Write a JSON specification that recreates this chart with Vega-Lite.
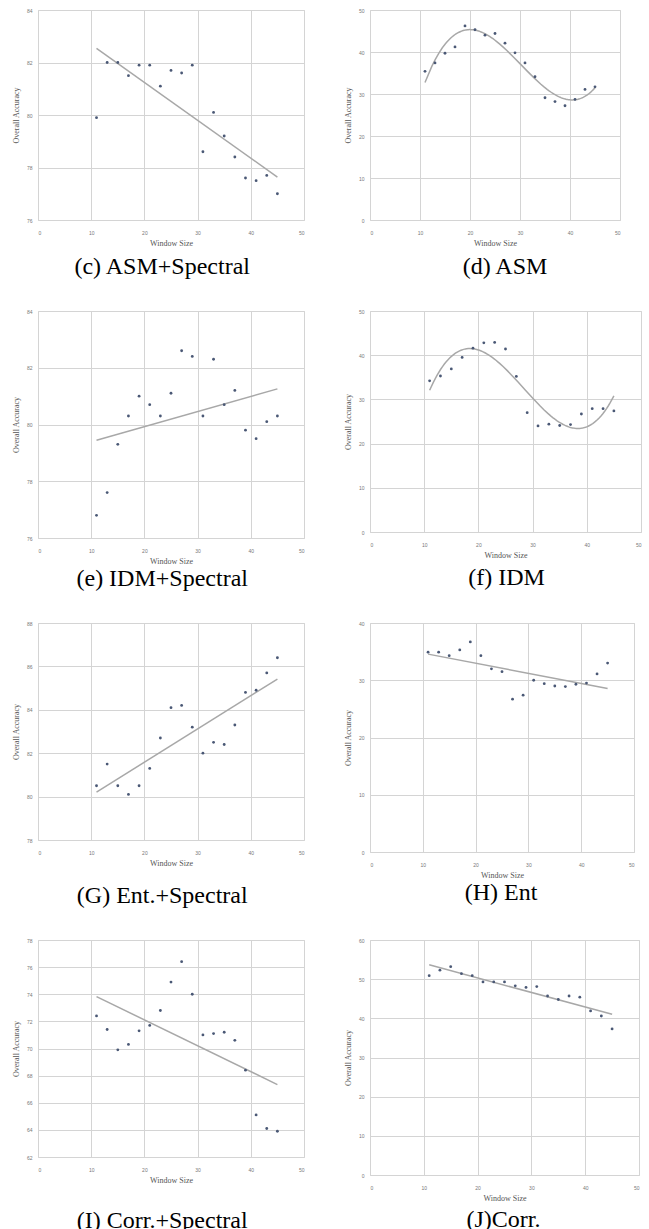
{
  "$schema": "https://vega.github.io/schema/vega-lite/v6.json",
  "background": "white",
  "padding": {"left": 11, "top": 7, "right": 0, "bottom": 0},
  "datasets": {
    "c": [{"x":11,"y":79.9},{"x":13,"y":82.0},{"x":15,"y":82.0},{"x":17,"y":81.5},{"x":19,"y":81.9},{"x":21,"y":81.9},{"x":23,"y":81.1},{"x":25,"y":81.7},{"x":27,"y":81.6},{"x":29,"y":81.9},{"x":31,"y":78.6},{"x":33,"y":80.1},{"x":35,"y":79.2},{"x":37,"y":78.4},{"x":39,"y":77.6},{"x":41,"y":77.5},{"x":43,"y":77.7},{"x":45,"y":77.0}],
    "d": [{"x":11,"y":35.4},{"x":13,"y":37.4},{"x":15,"y":39.7},{"x":17,"y":41.2},{"x":19,"y":46.2},{"x":21,"y":45.3},{"x":23,"y":44.0},{"x":25,"y":44.4},{"x":27,"y":42.1},{"x":29,"y":39.8},{"x":31,"y":37.4},{"x":33,"y":34.1},{"x":35,"y":29.1},{"x":37,"y":28.2},{"x":39,"y":27.2},{"x":41,"y":28.7},{"x":43,"y":31.1},{"x":45,"y":31.7}],
    "e": [{"x":11,"y":76.8},{"x":13,"y":77.6},{"x":15,"y":79.3},{"x":17,"y":80.3},{"x":19,"y":81.0},{"x":21,"y":80.7},{"x":23,"y":80.3},{"x":25,"y":81.1},{"x":27,"y":82.6},{"x":29,"y":82.4},{"x":31,"y":80.3},{"x":33,"y":82.3},{"x":35,"y":80.7},{"x":37,"y":81.2},{"x":39,"y":79.8},{"x":41,"y":79.5},{"x":43,"y":80.1},{"x":45,"y":80.3}],
    "f": [{"x":11,"y":34.2},{"x":13,"y":35.3},{"x":15,"y":36.9},{"x":17,"y":39.5},{"x":19,"y":41.6},{"x":21,"y":42.8},{"x":23,"y":42.9},{"x":25,"y":41.4},{"x":27,"y":35.2},{"x":29,"y":27.0},{"x":31,"y":24.0},{"x":33,"y":24.4},{"x":35,"y":24.1},{"x":37,"y":24.3},{"x":39,"y":26.7},{"x":41,"y":27.9},{"x":43,"y":27.9},{"x":45,"y":27.4}],
    "g": [{"x":11,"y":80.5},{"x":13,"y":81.5},{"x":15,"y":80.5},{"x":17,"y":80.1},{"x":19,"y":80.5},{"x":21,"y":81.3},{"x":23,"y":82.7},{"x":25,"y":84.1},{"x":27,"y":84.2},{"x":29,"y":83.2},{"x":31,"y":82.0},{"x":33,"y":82.5},{"x":35,"y":82.4},{"x":37,"y":83.3},{"x":39,"y":84.8},{"x":41,"y":84.9},{"x":43,"y":85.7},{"x":45,"y":86.4}],
    "h": [{"x":11,"y":34.9},{"x":13,"y":34.9},{"x":15,"y":34.3},{"x":17,"y":35.3},{"x":19,"y":36.7},{"x":21,"y":34.3},{"x":23,"y":32.0},{"x":25,"y":31.5},{"x":27,"y":26.7},{"x":29,"y":27.4},{"x":31,"y":30.0},{"x":33,"y":29.4},{"x":35,"y":29.0},{"x":37,"y":28.9},{"x":39,"y":29.3},{"x":41,"y":29.5},{"x":43,"y":31.1},{"x":45,"y":33.0}],
    "i": [{"x":11,"y":72.4},{"x":13,"y":71.4},{"x":15,"y":69.9},{"x":17,"y":70.3},{"x":19,"y":71.3},{"x":21,"y":71.7},{"x":23,"y":72.8},{"x":25,"y":74.9},{"x":27,"y":76.4},{"x":29,"y":74.0},{"x":31,"y":71.0},{"x":33,"y":71.1},{"x":35,"y":71.2},{"x":37,"y":70.6},{"x":39,"y":68.4},{"x":41,"y":65.1},{"x":43,"y":64.1},{"x":45,"y":63.9}],
    "j": [{"x":11,"y":50.9},{"x":13,"y":52.3},{"x":15,"y":53.2},{"x":17,"y":51.4},{"x":19,"y":50.9},{"x":21,"y":49.3},{"x":23,"y":49.3},{"x":25,"y":49.3},{"x":27,"y":48.3},{"x":29,"y":47.9},{"x":31,"y":48.1},{"x":33,"y":45.7},{"x":35,"y":44.8},{"x":37,"y":45.7},{"x":39,"y":45.4},{"x":41,"y":41.9},{"x":43,"y":40.6},{"x":45,"y":37.3}]
  },
  "spacing": 28,
  "vconcat": [
    {
      "spacing": 38,
      "hconcat": [
        {
          "width": 266, "height": 210,
          "data": {"name": "c"},
          "title": {"text": "(c) ASM+Spectral", "orient": "bottom", "offset": 8, "frame": "bounds", "dx": 4},
          "layer": [
            {"transform": [{"regression": "y", "on": "x", "extent": [11, 45]}],
             "mark": {"type": "line", "color": "#a8a8a8", "strokeWidth": 1.5, "clip": true},
             "encoding": {"x": {"field": "x", "type": "quantitative"}, "y": {"field": "y", "type": "quantitative"}}},
            {"mark": {"type": "circle", "size": 8, "color": "#4a5875", "opacity": 1},
             "encoding": {
               "x": {"field": "x", "type": "quantitative", "scale": {"domain": [0, 50], "nice": false}, "axis": {"values": [0, 10, 20, 30, 40, 50], "tickCount": 50, "format": "d", "title": "Window Size"}},
               "y": {"field": "y", "type": "quantitative", "scale": {"domain": [76, 84], "nice": false, "zero": false}, "axis": {"values": [76, 78, 80, 82, 84], "tickCount": 50, "format": "d", "title": "Overall Accuracy"}}}}
          ]
        },
        {
          "width": 250, "height": 210,
          "data": {"name": "d"},
          "title": {"text": "(d) ASM", "orient": "bottom", "offset": 8, "frame": "group", "dx": 10},
          "layer": [
            {"transform": [{"regression": "y", "on": "x", "method": "poly", "order": 3, "extent": [11, 45]}],
             "mark": {"type": "line", "color": "#a8a8a8", "strokeWidth": 1.5, "clip": true},
             "encoding": {"x": {"field": "x", "type": "quantitative"}, "y": {"field": "y", "type": "quantitative"}}},
            {"mark": {"type": "circle", "size": 8, "color": "#4a5875", "opacity": 1},
             "encoding": {
               "x": {"field": "x", "type": "quantitative", "scale": {"domain": [0, 50], "nice": false}, "axis": {"values": [0, 10, 20, 30, 40, 50], "tickCount": 50, "format": "d", "title": "Window Size"}},
               "y": {"field": "y", "type": "quantitative", "scale": {"domain": [0, 50], "nice": false}, "axis": {"values": [0, 10, 20, 30, 40, 50], "tickCount": 50, "format": "d", "title": "Overall Accuracy"}}}}
          ]
        }
      ]
    },
    {
      "spacing": 38,
      "hconcat": [
        {
          "width": 266, "height": 227,
          "data": {"name": "e"},
          "title": {"text": "(e) IDM+Spectral", "orient": "bottom", "offset": 2, "frame": "bounds", "dx": 4},
          "layer": [
            {"transform": [{"regression": "y", "on": "x", "extent": [11, 45]}],
             "mark": {"type": "line", "color": "#a8a8a8", "strokeWidth": 1.5, "clip": true},
             "encoding": {"x": {"field": "x", "type": "quantitative"}, "y": {"field": "y", "type": "quantitative"}}},
            {"mark": {"type": "circle", "size": 8, "color": "#4a5875", "opacity": 1},
             "encoding": {
               "x": {"field": "x", "type": "quantitative", "scale": {"domain": [0, 50], "nice": false}, "axis": {"values": [0, 10, 20, 30, 40, 50], "tickCount": 50, "format": "d", "title": "Window Size"}},
               "y": {"field": "y", "type": "quantitative", "scale": {"domain": [76, 84], "nice": false, "zero": false}, "axis": {"values": [76, 78, 80, 82, 84], "tickCount": 50, "format": "d", "title": "Overall Accuracy"}}}}
          ]
        },
        {
          "width": 271, "height": 221,
          "data": {"name": "f"},
          "title": {"text": "(f) IDM", "orient": "bottom", "offset": 7, "frame": "group", "dx": 1},
          "layer": [
            {"transform": [{"regression": "y", "on": "x", "method": "poly", "order": 3, "extent": [11, 45]}],
             "mark": {"type": "line", "color": "#a8a8a8", "strokeWidth": 1.5, "clip": true},
             "encoding": {"x": {"field": "x", "type": "quantitative"}, "y": {"field": "y", "type": "quantitative"}}},
            {"mark": {"type": "circle", "size": 8, "color": "#4a5875", "opacity": 1},
             "encoding": {
               "x": {"field": "x", "type": "quantitative", "scale": {"domain": [0, 50], "nice": false}, "axis": {"values": [0, 10, 20, 30, 40, 50], "tickCount": 50, "format": "d", "title": "Window Size"}},
               "y": {"field": "y", "type": "quantitative", "scale": {"domain": [0, 50], "nice": false}, "axis": {"values": [0, 10, 20, 30, 40, 50], "tickCount": 50, "format": "d", "title": "Overall Accuracy"}}}}
          ]
        }
      ]
    },
    {
      "spacing": 38,
      "hconcat": [
        {
          "width": 266, "height": 217,
          "data": {"name": "g"},
          "title": {"text": "(G) Ent.+Spectral", "orient": "bottom", "offset": 17, "frame": "bounds", "dx": 4},
          "layer": [
            {"transform": [{"regression": "y", "on": "x", "extent": [11, 45]}],
             "mark": {"type": "line", "color": "#a8a8a8", "strokeWidth": 1.5, "clip": true},
             "encoding": {"x": {"field": "x", "type": "quantitative"}, "y": {"field": "y", "type": "quantitative"}}},
            {"mark": {"type": "circle", "size": 8, "color": "#4a5875", "opacity": 1},
             "encoding": {
               "x": {"field": "x", "type": "quantitative", "scale": {"domain": [0, 50], "nice": false}, "axis": {"values": [0, 10, 20, 30, 40, 50], "tickCount": 50, "format": "d", "title": "Window Size"}},
               "y": {"field": "y", "type": "quantitative", "scale": {"domain": [78, 88], "nice": false, "zero": false}, "axis": {"values": [78, 80, 82, 84, 86, 88], "tickCount": 50, "format": "d", "title": "Overall Accuracy"}}}}
          ]
        },
        {
          "width": 264, "height": 229,
          "data": {"name": "h"},
          "title": {"text": "(H) Ent", "orient": "bottom", "offset": 2, "frame": "group", "dx": -1},
          "layer": [
            {"transform": [{"regression": "y", "on": "x", "extent": [11, 45]}],
             "mark": {"type": "line", "color": "#a8a8a8", "strokeWidth": 1.5, "clip": true},
             "encoding": {"x": {"field": "x", "type": "quantitative"}, "y": {"field": "y", "type": "quantitative"}}},
            {"mark": {"type": "circle", "size": 8, "color": "#4a5875", "opacity": 1},
             "encoding": {
               "x": {"field": "x", "type": "quantitative", "scale": {"domain": [0, 50], "nice": false}, "axis": {"values": [0, 10, 20, 30, 40, 50], "tickCount": 50, "format": "d", "title": "Window Size"}},
               "y": {"field": "y", "type": "quantitative", "scale": {"domain": [0, 40], "nice": false}, "axis": {"values": [0, 10, 20, 30, 40], "tickCount": 50, "format": "d", "title": "Overall Accuracy"}}}}
          ]
        }
      ]
    },
    {
      "spacing": 38,
      "hconcat": [
        {
          "width": 266, "height": 217,
          "data": {"name": "i"},
          "title": {"text": "(I) Corr.+Spectral", "orient": "bottom", "offset": 25, "frame": "bounds", "dx": 4},
          "layer": [
            {"transform": [{"regression": "y", "on": "x", "extent": [11, 45]}],
             "mark": {"type": "line", "color": "#a8a8a8", "strokeWidth": 1.5, "clip": true},
             "encoding": {"x": {"field": "x", "type": "quantitative"}, "y": {"field": "y", "type": "quantitative"}}},
            {"mark": {"type": "circle", "size": 8, "color": "#4a5875", "opacity": 1},
             "encoding": {
               "x": {"field": "x", "type": "quantitative", "scale": {"domain": [0, 50], "nice": false}, "axis": {"values": [0, 10, 20, 30, 40, 50], "tickCount": 50, "format": "d", "title": "Window Size"}},
               "y": {"field": "y", "type": "quantitative", "scale": {"domain": [62, 78], "nice": false, "zero": false}, "axis": {"values": [62, 64, 66, 68, 70, 72, 74, 76, 78], "tickCount": 50, "format": "d", "title": "Overall Accuracy"}}}}
          ]
        },
        {
          "width": 269, "height": 235,
          "data": {"name": "j"},
          "title": {"text": "(J)Corr.", "orient": "bottom", "offset": 6, "frame": "group", "dx": -1},
          "layer": [
            {"transform": [{"regression": "y", "on": "x", "extent": [11, 45]}],
             "mark": {"type": "line", "color": "#a8a8a8", "strokeWidth": 1.5, "clip": true},
             "encoding": {"x": {"field": "x", "type": "quantitative"}, "y": {"field": "y", "type": "quantitative"}}},
            {"mark": {"type": "circle", "size": 8, "color": "#4a5875", "opacity": 1},
             "encoding": {
               "x": {"field": "x", "type": "quantitative", "scale": {"domain": [0, 50], "nice": false}, "axis": {"values": [0, 10, 20, 30, 40, 50], "tickCount": 50, "format": "d", "title": "Window Size"}},
               "y": {"field": "y", "type": "quantitative", "scale": {"domain": [0, 60], "nice": false}, "axis": {"values": [0, 10, 20, 30, 40, 50, 60], "tickCount": 50, "format": "d", "title": "Overall Accuracy"}}}}
          ]
        }
      ]
    }
  ],
  "config": {
    "view": {"stroke": "#d4d4d4", "strokeWidth": 1},
    "axis": {
      "domain": false, "ticks": false, "tickSize": 0,
      "grid": true, "gridColor": "#d4d4d4", "gridWidth": 1,
      "labelFont": "Liberation Sans", "labelFontSize": 5, "labelColor": "#777777",
      "titleFont": "Liberation Serif", "titleFontSize": 8, "titleFontWeight": "normal", "titleColor": "#555555"
    },
    "axisX": {"labelPadding": 10, "titlePadding": 4},
    "axisY": {"labelPadding": 6, "titlePadding": 6},
    "title": {"font": "Liberation Serif", "fontSize": 24, "fontWeight": "normal", "color": "#000000", "anchor": "middle"}
  }
}
